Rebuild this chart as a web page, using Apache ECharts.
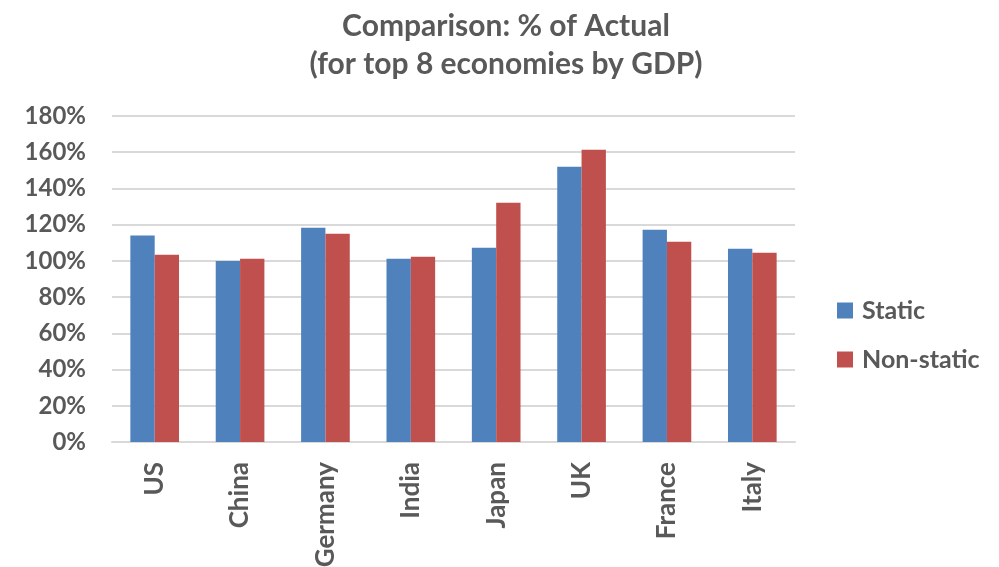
<!DOCTYPE html>
<html>
<head>
<meta charset="utf-8">
<script src="https://cdn.jsdelivr.net/npm/echarts@6/dist/echarts.min.js"></script>
<style>
  html, body { margin: 0; padding: 0; background: #fff; }
  #chart { width: 999px; height: 567px; }
</style>
</head>
<body>
<div id="chart"></div>
<script>
// Countries, largest economies by GDP
const categories = ['US', 'China', 'Germany', 'India', 'Japan', 'UK', 'France', 'Italy'];
// Estimate as a percentage of the actual figure
const staticValues = [114, 100, 118.3, 101.2, 107.2, 152, 117.2, 106.7];
const nonStaticValues = [103.4, 101.2, 115, 102.3, 132.1, 161.3, 110.5, 104.5];
const seriesNames = ['Static', 'Non-static'];
const yTicks = { min: 0, max: 180, interval: 20 };

const textColor = '#595959';
const font = 'Lato, "Open Sans", sans-serif';

const chart = echarts.init(document.getElementById('chart'), null, { renderer: 'canvas' });
chart.setOption({
  animation: false,
  title: {
    text: 'Comparison: % of Actual\n(for top 8 economies by GDP)',
    left: 501,
    textAlign: 'center',
    top: 2,
    textStyle: {
      color: textColor,
      fontFamily: font,
      fontWeight: 'bold',
      fontSize: 30,
      lineHeight: 38
    }
  },
  legend: {
    orient: 'vertical',
    left: 837,
    top: 298,
    padding: 0,
    itemWidth: 16,
    itemHeight: 16,
    itemGap: 24,
    icon: 'rect',
    textStyle: {
      color: textColor,
      fontFamily: font,
      fontWeight: 'bold',
      fontSize: 25,
      padding: [0, 0, 0, 4]
    },
    data: seriesNames
  },
  grid: {
    left: 112,
    right: 204,
    top: 116,
    bottom: 125,
    containLabel: false,
    outerBoundsMode: 'none'
  },
  xAxis: {
    type: 'category',
    data: categories,
    axisLine: { show: true, lineStyle: { color: '#d9d9d9', width: 2 } },
    axisTick: { show: false },
    axisLabel: {
      rotate: 90,
      margin: 20,
      color: textColor,
      fontFamily: font,
      fontWeight: 'bold',
      fontSize: 26
    }
  },
  yAxis: {
    type: 'value',
    min: yTicks.min,
    max: yTicks.max,
    interval: yTicks.interval,
    axisLine: { show: false },
    axisTick: { show: false },
    splitLine: { lineStyle: { color: '#d9d9d9', width: 2 } },
    axisLabel: {
      margin: 26,
      color: textColor,
      fontFamily: font,
      fontWeight: 'bold',
      fontSize: 24,
      formatter: v => v + '%'
    }
  },
  series: [
    {
      name: seriesNames[0],
      type: 'bar',
      data: staticValues,
      barGap: '0%',
      barCategoryGap: '43%',
      itemStyle: { color: '#4F81BD' }
    },
    {
      name: seriesNames[1],
      type: 'bar',
      data: nonStaticValues,
      barGap: '0%',
      barCategoryGap: '43%',
      itemStyle: { color: '#C0504D' }
    }
  ]
});
</script>
</body>
</html>
